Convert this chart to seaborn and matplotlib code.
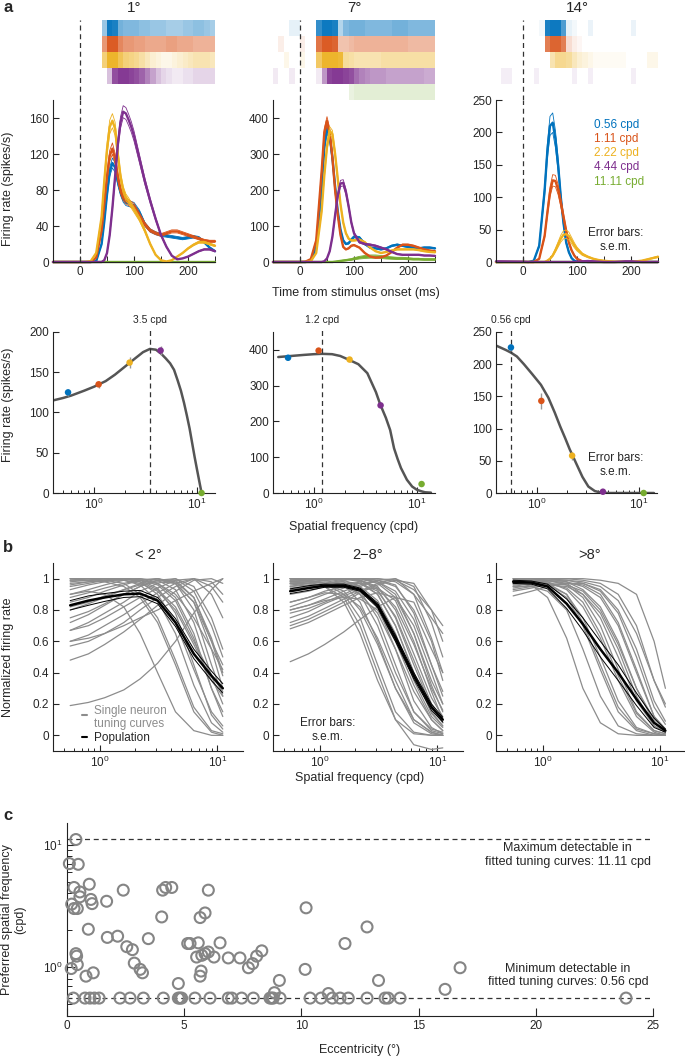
import numpy as np
import pandas as pd
import matplotlib
matplotlib.use("Agg")
import matplotlib.pyplot as plt
import seaborn as sns
from matplotlib.colors import to_rgb
from matplotlib.ticker import NullFormatter

sns.set_style("ticks")
plt.rcParams["font.family"] = ["Liberation Sans", "DejaVu Sans"]
plt.rcParams.update({
    "font.size": 8.5, "xtick.labelsize": 8.5, "ytick.labelsize": 8.5,
    "xtick.direction": "in", "ytick.direction": "in",
    "axes.linewidth": 0.8, "axes.edgecolor": "#222222",
    "xtick.major.size": 4, "ytick.major.size": 4,
    "xtick.minor.size": 2.2, "ytick.minor.size": 2.2,
    "xtick.major.width": 0.8, "ytick.major.width": 0.8,
    "xtick.minor.width": 0.7, "ytick.minor.width": 0.7,
    "xtick.major.pad": 3, "ytick.major.pad": 3,
})

# ---------------- data ----------------
cond_labels = ["0.56 cpd", "1.11 cpd", "2.22 cpd", "4.44 cpd", "11.11 cpd"]
cond_sf = [0.56, 1.11, 2.22, 4.44, 11.11]
cond_colors = ["#0072BD", "#D95319", "#EDB120", "#7E2F8E", "#77AC30"]
ecc_titles = ["1°", "7°", "14°"]

# raster density, 10 ms bins from -50 to 250 ms (blue, orange, yellow, purple, green)
raster_bins = list(range(-50, 260, 10))
raster_1deg = [
    [0, 0, 0, 0, 0, 0, 0, 0, 0, 0.4, 0.95, 0.9, 0.55, 0.5, 0.5, 0.5, 0.45, 0.45, 0.4, 0.4, 0.4, 0.35, 0.35, 0.35, 0.4, 0.4, 0.45, 0.45, 0.4, 0.35],
    [0, 0, 0, 0, 0, 0, 0, 0, 0, 0.6, 0.95, 0.95, 0.7, 0.6, 0.6, 0.55, 0.55, 0.5, 0.5, 0.5, 0.5, 0.55, 0.55, 0.5, 0.5, 0.5, 0.45, 0.45, 0.45, 0.45],
    [0, 0, 0, 0, 0, 0, 0, 0, 0, 0.6, 0.95, 0.95, 0.75, 0.6, 0.55, 0.5, 0.4, 0.3, 0.2, 0.15, 0.1, 0.1, 0.15, 0.2, 0.25, 0.3, 0.35, 0.35, 0.35, 0.3],
    [0, 0, 0, 0, 0, 0, 0, 0, 0, 0, 0.3, 0.85, 0.95, 0.95, 0.9, 0.85, 0.75, 0.6, 0.45, 0.3, 0.2, 0.15, 0.1, 0.1, 0.15, 0.15, 0.2, 0.2, 0.2, 0.2],
    [0] * 30,
]
raster_7deg = [
    [0, 0, 0, 0.1, 0.1, 0, 0, 0, 0.8, 0.95, 0.95, 0.9, 0.3, 0.5, 0.55, 0.55, 0.55, 0.5, 0.5, 0.5, 0.5, 0.5, 0.55, 0.55, 0.55, 0.5, 0.5, 0.5, 0.5, 0.5],
    [0, 0.1, 0, 0, 0, 0.1, 0, 0, 0.8, 0.95, 0.95, 0.9, 0.35, 0.35, 0.4, 0.45, 0.45, 0.45, 0.45, 0.45, 0.45, 0.45, 0.45, 0.45, 0.45, 0.4, 0.4, 0.4, 0.4, 0.4],
    [0, 0, 0.1, 0, 0, 0.1, 0, 0, 0.7, 0.95, 0.95, 0.95, 0.9, 0.45, 0.4, 0.35, 0.35, 0.35, 0.35, 0.35, 0.4, 0.4, 0.4, 0.4, 0.4, 0.4, 0.4, 0.4, 0.4, 0.4],
    [0.1, 0, 0, 0.1, 0, 0, 0, 0, 0.1, 0.5, 0.9, 0.95, 0.95, 0.9, 0.85, 0.7, 0.6, 0.55, 0.5, 0.5, 0.5, 0.45, 0.45, 0.45, 0.45, 0.45, 0.45, 0.45, 0.4, 0.4],
    [0, 0, 0, 0, 0, 0, 0, 0, 0, 0, 0, 0, 0, 0, 0.15, 0.2, 0.2, 0.2, 0.2, 0.2, 0.2, 0.2, 0.2, 0.2, 0.2, 0.2, 0.2, 0.2, 0.2, 0.2],
]
raster_14deg = [
    [0, 0, 0, 0, 0, 0, 0, 0, 0.05, 0.9, 0.95, 0.95, 0.7, 0.1, 0.05, 0, 0, 0.08, 0, 0, 0, 0, 0, 0, 0, 0.08, 0, 0, 0, 0],
    [0, 0, 0, 0, 0, 0, 0, 0, 0, 0.75, 0.9, 0.9, 0.75, 0.2, 0.1, 0.05, 0, 0, 0, 0, 0, 0, 0, 0, 0, 0, 0, 0, 0, 0],
    [0, 0, 0, 0, 0, 0, 0, 0, 0, 0, 0.35, 0.5, 0.5, 0.45, 0.3, 0.2, 0.15, 0.1, 0.05, 0.05, 0.05, 0.05, 0.05, 0.05, 0, 0, 0, 0, 0.1, 0.1],
    [0, 0.08, 0.08, 0, 0, 0, 0, 0.08, 0, 0, 0, 0, 0, 0, 0.08, 0, 0, 0.08, 0, 0, 0, 0, 0, 0, 0, 0.08, 0, 0, 0, 0],
    [0] * 30,
]

# PSTH mean firing rate (spikes/s) sampled at t_ms
t_ms = [-50, 0, 10, 20, 30, 40, 45, 50, 55, 60, 65, 70, 75, 80, 85, 90, 95, 100,
        110, 120, 130, 140, 150, 160, 170, 180, 190, 200, 210, 220, 230, 240, 250]
psth_1deg = [
    [0, 0, 0, 0, 1, 20, 45, 75, 100, 110, 105, 90, 78, 70, 66, 65, 64, 63, 55, 42, 35, 32, 30, 29, 28, 27, 26, 27, 28, 27, 22, 16, 12],
    [0, 0, 0, 0, 5, 35, 65, 95, 118, 126, 115, 95, 80, 72, 68, 66, 64, 62, 52, 42, 35, 32, 30, 32, 34, 34, 32, 30, 28, 26, 24, 23, 23],
    [0, 0, 0, 1, 10, 50, 90, 125, 150, 157, 148, 120, 95, 80, 72, 68, 63, 58, 48, 35, 20, 8, 2, 0.5, 2, 6, 10, 15, 19, 22, 22, 20, 18],
    [0, 0, 0, 0, 0, 0, 2, 10, 30, 60, 95, 130, 155, 167, 165, 158, 150, 140, 115, 90, 68, 48, 30, 17, 7, 3, 4, 6, 9, 12, 14, 14, 12],
    [0] * 33,
]
psth_7deg = [
    [0, 0, 0, 3, 40, 200, 320, 372, 350, 290, 210, 140, 90, 60, 50, 52, 62, 70, 68, 50, 40, 38, 35, 38, 45, 48, 45, 42, 40, 38, 40, 40, 38],
    [0, 0, 1, 8, 60, 250, 360, 392, 360, 290, 200, 130, 75, 42, 35, 38, 45, 47, 40, 25, 15, 12, 13, 18, 28, 40, 48, 48, 45, 40, 35, 32, 30],
    [0, 0, 0, 2, 25, 140, 240, 320, 365, 355, 300, 230, 160, 110, 80, 65, 60, 60, 62, 55, 40, 30, 25, 28, 32, 35, 35, 35, 35, 33, 30, 28, 27],
    [0, 0, 0, 0, 0, 0, 2, 10, 30, 70, 130, 185, 218, 220, 195, 155, 110, 80, 55, 50, 48, 45, 40, 35, 28, 22, 20, 20, 20, 20, 18, 18, 17],
    [0, 0, 0, 0, 0, 0, 0, 0, 0, 0, 1, 2, 3, 4, 5, 6, 7, 9, 12, 14, 15, 15, 14, 12, 11, 10, 10, 9, 8, 8, 7, 7, 7],
]
psth_14deg = [
    [0, 0, 0, 2, 25, 110, 170, 210, 215, 190, 150, 100, 60, 30, 15, 6, 2, 0.5, 0, 0, 0, 0, 0, 0, 0, 0, 0, 0, 0, 0, 0, 0, 0],
    [0, 0, 0, 0, 5, 40, 75, 108, 126, 125, 112, 92, 70, 48, 30, 18, 10, 5, 1, 0, 0, 0, 0, 0, 0, 0, 0, 0, 0, 0, 0, 0, 0],
    [0, 0, 0, 0, 0, 0, 2, 5, 10, 18, 27, 36, 42, 43, 40, 33, 26, 20, 12, 8, 5, 3, 2, 1, 0.5, 0.5, 0.5, 0.5, 1, 2, 4, 6, 8],
    [1, 0.5, 0, 0, 0, 0, 0, 0, 0, 0, 0, 0, 0, 0, 0, 0, 0, 0.5, 1, 1.5, 1, 0.5, 0, 0, 0, 0.5, 1, 1, 0.5, 0, 0, 0, 0],
    [0] * 33,
]
# relative s.e.m. of each PSTH
psth_rel_sem = [[0.05, 0.05, 0.05, 0.04, 0], [0.04, 0.03, 0.03, 0.04, 0.3], [0.07, 0.07, 0.15, 0.3, 0]]
psth_ytop = [180, 450, 250]
psth_yticks = [[0, 40, 80, 120, 160], [0, 100, 200, 300, 400], [0, 50, 100, 150, 200, 250]]

# tuning: measured points and fitted curves
tune_rates = [[125, 135, 162, 177, 0], [378, 398, 373, 245, 25], [226, 143, 58, 2, 0]]
tune_sem = [[4, 4, 7, 6, 1], [6, 6, 6, 6, 4], [5, 12, 6, 2, 1]]
fit1_sf = [0.4, 0.5, 0.6, 0.8, 1.0, 1.3, 1.6, 2.0, 2.5, 3.0, 3.5, 4.0, 4.5, 5.0, 5.5, 6.0, 6.5, 7.0, 7.5, 8.0, 8.5, 9.0, 9.5, 10.0, 10.5, 11.11]
fit1_rate = [115, 118, 121, 127, 132, 139, 147, 157, 167, 175, 179, 178, 173, 167, 161, 153, 140, 127, 112, 96, 80, 62, 45, 30, 16, 0]
fit2_sf = [0.45, 0.6, 0.8, 1.0, 1.2, 1.5, 1.8, 2.2, 2.7, 3.3, 4.0, 4.4, 5.0, 5.5, 6.0, 6.5, 7.0, 8.0, 9.0, 10.0, 11.0, 12.0, 13.7]
fit2_rate = [380, 383, 386, 388, 389, 388, 383, 372, 360, 335, 282, 248, 210, 176, 125, 95, 70, 37, 18, 9, 5, 2, 1]
fit3_sf = [0.4, 0.5, 0.56, 0.64, 0.75, 0.9, 1.1, 1.3, 1.5, 1.7, 1.9, 2.1, 2.4, 2.8, 3.2, 3.7, 4.3, 5.0, 14.0]
fit3_rate = [229, 222, 218, 212, 200, 185, 168, 148, 125, 103, 85, 68, 48, 25, 10, 3, 0.5, 0, 0]
pref_sf = [3.5, 1.2, 0.56]
pref_labels = ["3.5 cpd", "1.2 cpd", "0.56 cpd"]
tune_ytop = [200, 450, 250]
tune_yticks = [[0, 50, 100, 150, 200], [0, 100, 200, 300, 400], [0, 50, 100, 150, 200, 250]]

# panel b: normalized single-neuron tuning curves sampled at b_sf
b_sf = [0.56, 0.8, 1.1, 1.6, 2.2, 3.1, 4.4, 6.3, 8.9, 11.11]
curves_lt2 = [
    [1, 1, 1, 1, 0.99, 0.97, 0.9, 0.75, 0.55, 0.42],
    [1, 1, 1, 0.99, 0.97, 0.92, 0.8, 0.58, 0.35, 0.25],
    [0.99, 0.99, 1, 1, 0.98, 0.93, 0.82, 0.6, 0.38, 0.28],
    [0.98, 0.99, 1, 1, 0.99, 0.96, 0.86, 0.62, 0.3, 0.15],
    [0.97, 0.98, 0.99, 1, 0.98, 0.9, 0.72, 0.42, 0.15, 0.06],
    [0.96, 0.98, 0.99, 0.99, 0.96, 0.86, 0.65, 0.32, 0.08, 0.02],
    [0.95, 0.97, 0.99, 1, 0.99, 0.94, 0.78, 0.45, 0.13, 0.04],
    [0.93, 0.96, 0.98, 1, 1, 0.97, 0.88, 0.65, 0.3, 0.12],
    [0.9, 0.93, 0.96, 0.99, 1, 0.99, 0.93, 0.72, 0.38, 0.2],
    [0.88, 0.91, 0.94, 0.97, 0.99, 1, 0.97, 0.85, 0.6, 0.45],
    [0.85, 0.88, 0.92, 0.96, 0.99, 1, 0.97, 0.8, 0.45, 0.25],
    [0.82, 0.85, 0.89, 0.93, 0.96, 0.98, 0.97, 0.85, 0.55, 0.3],
    [0.8, 0.84, 0.88, 0.93, 0.97, 1, 0.98, 0.88, 0.62, 0.4],
    [0.72, 0.77, 0.83, 0.9, 0.95, 0.99, 1, 0.92, 0.7, 0.5],
    [0.67, 0.72, 0.78, 0.85, 0.92, 0.97, 1, 0.95, 0.75, 0.55],
    [0.67, 0.7, 0.75, 0.82, 0.88, 0.94, 0.99, 1, 0.9, 0.75],
    [0.6, 0.64, 0.7, 0.77, 0.84, 0.91, 0.97, 1, 0.95, 0.85],
    [0.57, 0.6, 0.65, 0.72, 0.8, 0.88, 0.95, 1, 0.98, 0.9],
    [0.48, 0.52, 0.58, 0.66, 0.74, 0.83, 0.92, 0.99, 1, 0.97],
    [0.19, 0.21, 0.24, 0.29, 0.36, 0.46, 0.6, 0.78, 0.93, 1],
    [0.6, 0.62, 0.65, 0.7, 0.75, 0.8, 0.86, 0.92, 0.97, 1],
    [0.9, 0.92, 0.9, 0.82, 0.65, 0.4, 0.15, 0.03, 0, 0],
    [0.99, 1, 0.99, 0.97, 0.9, 0.75, 0.48, 0.18, 0.03, 0.01],
    [1, 0.99, 0.98, 0.95, 0.88, 0.72, 0.45, 0.15, 0.02, 0],
    [0.75, 0.79, 0.84, 0.9, 0.95, 0.99, 0.99, 0.88, 0.6, 0.38],
]
curves_2to8 = [
    [1, 1, 1, 0.98, 0.9, 0.7, 0.4, 0.15, 0.04, 0.02],
    [1, 1, 0.99, 0.96, 0.85, 0.6, 0.3, 0.08, 0.01, 0],
    [0.99, 0.99, 0.97, 0.9, 0.75, 0.45, 0.15, 0.02, 0, 0],
    [0.98, 0.98, 0.95, 0.85, 0.65, 0.35, 0.1, 0.01, 0, 0],
    [1, 1, 1, 1, 0.98, 0.9, 0.7, 0.4, 0.15, 0.06],
    [1, 1, 1, 1, 0.99, 0.95, 0.8, 0.52, 0.24, 0.12],
    [0.97, 0.98, 0.99, 1, 1, 0.97, 0.88, 0.65, 0.35, 0.2],
    [0.95, 0.97, 0.99, 1, 1, 0.99, 0.95, 0.8, 0.55, 0.4],
    [0.93, 0.95, 0.97, 0.99, 1, 1, 0.98, 0.9, 0.75, 0.65],
    [0.98, 0.99, 1, 0.99, 0.95, 0.82, 0.55, 0.22, 0.05, 0.01],
    [0.96, 0.97, 0.98, 0.97, 0.92, 0.75, 0.45, 0.15, 0.03, 0.01],
    [0.92, 0.94, 0.96, 0.97, 0.95, 0.86, 0.65, 0.35, 0.12, 0.05],
    [0.9, 0.92, 0.95, 0.97, 0.97, 0.92, 0.76, 0.48, 0.2, 0.08],
    [0.82, 0.86, 0.9, 0.94, 0.97, 0.98, 0.9, 0.65, 0.32, 0.15],
    [0.8, 0.83, 0.87, 0.92, 0.96, 0.99, 0.96, 0.78, 0.45, 0.25],
    [0.78, 0.81, 0.85, 0.9, 0.95, 0.99, 1, 0.9, 0.62, 0.4],
    [0.72, 0.76, 0.81, 0.87, 0.92, 0.97, 1, 0.95, 0.72, 0.5],
    [0.7, 0.74, 0.79, 0.85, 0.91, 0.96, 0.99, 0.97, 0.8, 0.6],
    [0.47, 0.52, 0.58, 0.66, 0.74, 0.82, 0.88, 0.85, 0.6, 0.35],
    [0.85, 0.88, 0.91, 0.9, 0.82, 0.62, 0.35, 0.1, 0.02, 0],
    [1, 0.99, 0.97, 0.92, 0.8, 0.58, 0.3, 0.1, 0.02, 0],
    [0.95, 0.96, 0.97, 0.98, 0.97, 0.9, 0.7, 0.4, 0.14, 0.06],
    [0.97, 0.98, 0.99, 1, 0.99, 0.93, 0.75, 0.45, 0.18, 0.08],
    [0.99, 1, 1, 1, 0.99, 0.94, 0.82, 0.58, 0.3, 0.16],
    [0.98, 0.99, 1, 1, 1, 0.98, 0.92, 0.74, 0.45, 0.28],
    [0.85, 0.88, 0.92, 0.95, 0.98, 1, 0.99, 0.93, 0.8, 0.7],
    [0.97, 0.97, 0.95, 0.88, 0.7, 0.4, 0.1, -0.06, -0.09, -0.08],
    [0.94, 0.95, 0.96, 0.95, 0.9, 0.78, 0.55, 0.28, 0.1, 0.03],
    [0.8, 0.83, 0.86, 0.88, 0.87, 0.8, 0.6, 0.32, 0.1, 0.03],
    [0.75, 0.79, 0.84, 0.89, 0.93, 0.94, 0.86, 0.6, 0.28, 0.1],
    [0.68, 0.72, 0.77, 0.83, 0.88, 0.91, 0.88, 0.7, 0.4, 0.2],
]
curves_gt8 = [
    [1, 1, 1, 1, 1, 0.99, 0.97, 0.9, 0.6, 0.3],
    [1, 1, 1, 1, 0.99, 0.97, 0.9, 0.7, 0.35, 0.18],
    [0.99, 1, 1, 0.99, 0.97, 0.92, 0.78, 0.5, 0.18, 0.07],
    [0.98, 0.99, 1, 0.98, 0.93, 0.82, 0.6, 0.3, 0.08, 0.03],
    [0.97, 0.99, 0.99, 0.96, 0.88, 0.7, 0.42, 0.15, 0.03, 0.01],
    [0.96, 0.97, 0.96, 0.9, 0.75, 0.5, 0.22, 0.05, 0.01, 0],
    [0.95, 0.95, 0.92, 0.8, 0.55, 0.25, 0.06, 0.01, 0, 0],
    [0.98, 0.96, 0.88, 0.62, 0.3, 0.08, 0.01, 0, 0, 0],
    [0.92, 0.94, 0.96, 0.97, 0.96, 0.9, 0.72, 0.42, 0.12, 0.04],
    [0.89, 0.92, 0.95, 0.97, 0.97, 0.93, 0.8, 0.55, 0.22, 0.09],
    [0.99, 0.99, 0.98, 0.93, 0.82, 0.62, 0.35, 0.12, 0.02, 0],
    [0.98, 0.98, 0.96, 0.88, 0.7, 0.42, 0.15, 0.03, 0, 0],
    [1, 1, 0.99, 0.97, 0.9, 0.75, 0.5, 0.22, 0.06, 0.02],
    [0.97, 0.98, 0.99, 0.99, 0.98, 0.95, 0.86, 0.65, 0.35, 0.2],
    [0.95, 0.97, 0.98, 0.98, 0.95, 0.88, 0.7, 0.4, 0.12, 0.04],
    [0.93, 0.95, 0.96, 0.95, 0.9, 0.78, 0.55, 0.25, 0.06, 0.02],
    [0.99, 0.99, 0.97, 0.9, 0.72, 0.45, 0.18, 0.04, 0.01, 0],
    [0.96, 0.97, 0.97, 0.94, 0.85, 0.65, 0.38, 0.14, 0.03, 0.01],
    [0.94, 0.96, 0.97, 0.96, 0.92, 0.8, 0.58, 0.3, 0.1, 0.04],
]
pop_mean = [
    [0.83, 0.86, 0.88, 0.9, 0.905, 0.86, 0.72, 0.52, 0.38, 0.30],
    [0.92, 0.94, 0.955, 0.955, 0.93, 0.83, 0.62, 0.38, 0.18, 0.10],
    [0.98, 0.975, 0.95, 0.84, 0.71, 0.55, 0.40, 0.23, 0.08, 0.03],
]
pop_sem = [
    [0.03, 0.03, 0.025, 0.02, 0.02, 0.02, 0.025, 0.03, 0.03, 0.03],
    [0.015, 0.015, 0.01, 0.01, 0.01, 0.015, 0.02, 0.02, 0.02, 0.015],
    [0.01, 0.01, 0.015, 0.03, 0.04, 0.05, 0.05, 0.04, 0.03, 0.01],
]
b_titles = ["< 2°", "2\u22128°", ">8°"]

# panel c: eccentricity (deg) and preferred SF (cpd)
ecc_deg = [0.27, 0.77, 0.98, 1.17, 1.37, 2.26, 2.69, 3.26, 4.11, 4.75, 4.82, 4.89, 5.46, 6.10,
           6.88, 7.03, 7.45, 7.95, 8.66, 8.73, 8.80, 9.09, 10.37, 10.84, 11.32, 11.65, 12.0,
           12.8, 13.57, 13.7, 14.21, 23.85,
           0.38, 0.10, 0.48, 0.95, 0.30, 2.40, 0.55, 0.55, 1.02, 1.69, 1.07, 0.20, 0.30, 0.44,
           4.08, 4.21, 4.47, 6.03, 4.04, 5.68, 5.89, 0.91, 1.72, 2.16, 3.47, 2.55, 2.79, 2.87,
           3.12, 3.22, 0.38, 0.41, 0.44, 0.18, 0.81, 1.12, 4.75, 5.15, 5.25, 5.60, 5.53, 5.75,
           5.89, 6.03, 6.27, 6.53, 5.72, 5.68, 6.88, 7.38, 7.74, 7.92, 8.09, 8.31, 9.06, 8.85,
           10.16, 10.2, 11.86, 12.8, 13.29, 16.13, 16.77, 11.15]
pref_cpd = [0.56] * 32 + [
    11.0, 7.0, 6.9, 4.75, 4.47, 4.25, 4.11, 3.75, 3.57, 3.45, 3.30, 3.27, 3.01, 3.01,
    4.25, 4.47, 4.47, 4.25, 2.57, 2.54, 2.77, 2.04, 1.75, 1.79, 1.71, 1.47, 1.39, 1.08,
    0.96, 0.90, 1.29, 1.23, 1.05, 0.975, 0.845, 0.90, 0.736, 1.56, 1.56, 1.58, 1.21, 1.25,
    1.29, 1.33, 1.21, 1.58, 0.93, 0.845, 1.19, 1.19, 0.99, 1.07, 1.23, 1.36, 0.78, 0.62,
    0.96, 3.05, 1.56, 2.13, 0.78, 0.66, 0.99, 0.61]
sf_max, sf_min = 11.11, 0.56

# ---------------- layout ----------------
W, H = 685, 1060
fig = plt.figure(figsize=(W / 100, H / 100), dpi=100)


def box(l, t, r, b):
    return fig.add_axes([l / W, 1 - b / H, (r - l) / W, (b - t) / H])


def ftext(x, y, s, **kw):
    fig.text(x / W, 1 - y / H, s, **kw)


def log_x(ax, lo, hi):
    ax.set_xscale("log")
    ax.set_xlim(lo, hi)
    ax.xaxis.set_minor_formatter(NullFormatter())


dash_kw = dict(color="#333333", lw=0.9, ls=(0, (4, 3)))
cols_lr = [(53, 215), (273, 435), (496, 658)]
draw_order = [4, 0, 1, 2, 3]
rasters = [raster_1deg, raster_7deg, raster_14deg]
psths = [psth_1deg, psth_7deg, psth_14deg]

# ---- panel a, row 1: raster + PSTH ----
for p in range(3):
    l, r = cols_lr[p]
    axr = box(l, 18, r, 100)
    slot = 0.195
    for c in range(5):
        img = np.zeros((1, len(raster_bins) - 1, 4))
        img[..., :3] = to_rgb(cond_colors[c])
        img[0, :, 3] = rasters[p][c]
        y1 = 1 - c * slot - 0.025
        axr.imshow(img, extent=(raster_bins[0], raster_bins[-1], y1 - slot, y1),
                   aspect="auto", interpolation="nearest")
    axr.axvline(0, ymin=0, ymax=0.97, **dash_kw)
    axr.set_xlim(-50, 250)
    axr.set_ylim(0, 1)
    axr.axis("off")
    ftext((l + r) / 2, 8, ecc_titles[p], ha="center", va="center", fontsize=11)

    ax = box(l, 100, r, 262)
    for c in draw_order:
        rate = np.array(psths[p][c], float)
        rel = psth_rel_sem[p][c]
        if rel > 0:
            for k in (1 + rel, 1 - rel):
                sns.lineplot(x=t_ms, y=rate * k, ax=ax, color=cond_colors[c], lw=0.6, sort=False)
        sns.lineplot(x=t_ms, y=rate, ax=ax, color=cond_colors[c], lw=1.7, sort=False)
    for ln in ax.lines:
        ln.set_clip_on(False)
    ax.axvline(0, **dash_kw)
    ax.set_xlim(-50, 250)
    ax.set_ylim(0, psth_ytop[p])
    ax.set_xticks([0, 100, 200])
    ax.set_xticks([-50, 50, 150, 250], minor=True)
    ax.tick_params(axis="x", which="minor", length=4)
    ax.set_yticks(psth_yticks[p])
    ax.set_xlabel("")
    ax.set_ylabel("")
    sns.despine(ax=ax)
    if p == 2:
        ys = [211, 190, 168, 147, 124]
        for c in range(5):
            ax.text(131, ys[c], cond_labels[c], color=cond_colors[c], fontsize=8.5, va="center")
        ax.text(172, 34, "Error bars:\ns.e.m.", ha="center", va="center", fontsize=8.5, linespacing=1.2)

ftext(8, 189, "Firing rate (spikes/s)", rotation=90, ha="center", va="center", fontsize=9)
ftext(356, 293, "Time from stimulus onset (ms)", ha="center", va="center", fontsize=9)

# ---- panel a, row 2: tuning ----
fits = [(fit1_sf, fit1_rate), (fit2_sf, fit2_rate), (fit3_sf, fit3_rate)]
for p in range(3):
    l, r = cols_lr[p]
    ax = box(l, 332, r - (1 if p == 2 else 0), 493)
    log_x(ax, 0.4, 15)
    sns.lineplot(x=fits[p][0], y=fits[p][1], ax=ax, color="#555555", lw=1.8)
    ax.plot([pref_sf[p], pref_sf[p]], [0, tune_ytop[p] * 1.02], clip_on=False, **dash_kw)
    ax.text(pref_sf[p], tune_ytop[p] * 1.045, pref_labels[p], ha="center", va="bottom", fontsize=7.5)
    for c in range(5):
        ax.errorbar(cond_sf[c], tune_rates[p][c], yerr=tune_sem[p][c], fmt="none",
                    ecolor="#999999", elinewidth=1, capsize=0, clip_on=False)
    pts = pd.DataFrame({"sf": cond_sf, "rate": tune_rates[p], "cond": cond_labels})
    sns.scatterplot(data=pts, x="sf", y="rate", hue="cond", palette=cond_colors, s=22,
                    edgecolor="none", legend=False, ax=ax, zorder=5)
    for coll in ax.collections:
        coll.set_clip_on(False)
    ax.set_ylim(0, tune_ytop[p])
    ax.set_yticks(tune_yticks[p])
    ax.set_xlabel("")
    ax.set_ylabel("")
    sns.despine(ax=ax)
    if p == 2:
        ax.text(0.745, 0.175, "Error bars:\ns.e.m.", transform=ax.transAxes, ha="center",
                va="center", fontsize=8.5, linespacing=1.2)

ftext(8, 405, "Firing rate (spikes/s)", rotation=90, ha="center", va="center", fontsize=9)
ftext(354, 527, "Spatial frequency (cpd)", ha="center", va="center", fontsize=9)

# ---- panel b ----
b_cols = [(53, 243), (273, 463), (496, 684)]
b_curves = [curves_lt2, curves_2to8, curves_gt8]
for p in range(3):
    l, r = b_cols[p]
    ax = box(l, 563, r, 751)
    log_x(ax, 0.4, 16.5 if p < 2 else 16.0)
    df = pd.DataFrame([(i, f, v) for i, row in enumerate(b_curves[p]) for f, v in zip(b_sf, row)],
                      columns=["unit", "sf", "rate"])
    sns.lineplot(data=df, x="sf", y="rate", units="unit", estimator=None, color="#8c8c8c",
                 lw=0.9, ax=ax)
    m = np.array(pop_mean[p])
    s = np.array(pop_sem[p])
    for yy, lw in ((m + s, 0.7), (m - s, 0.7), (m, 1.8)):
        sns.lineplot(x=b_sf, y=yy, ax=ax, color="black", lw=lw)
    ax.set_ylim(-0.1, 1.1)
    ax.set_yticks([0, 0.2, 0.4, 0.6, 0.8, 1])
    ax.set_yticklabels(["0", "0.2", "0.4", "0.6", "0.8", "1"])
    ax.set_xlabel("")
    ax.set_ylabel("")
    sns.despine(ax=ax)
    ax.set_title(b_titles[p], fontsize=10.5, pad=3)
    if p == 0:
        ax.plot([0.155, 0.18], [0.19, 0.19], transform=ax.transAxes, color="#8c8c8c", lw=1.5)
        ax.text(0.215, 0.178, "Single neuron\ntuning curves", transform=ax.transAxes, color="#8c8c8c",
                va="center", fontsize=8.5, linespacing=1.05)
        ax.plot([0.155, 0.18], [0.074, 0.074], transform=ax.transAxes, color="black", lw=1.5)
        ax.text(0.215, 0.07, "Population", transform=ax.transAxes, va="center", fontsize=8.5)
    if p == 1:
        ax.text(0.29, 0.11, "Error bars:\ns.e.m.", transform=ax.transAxes, ha="center",
                va="center", fontsize=8.5, linespacing=1.2)

ftext(8, 657, "Normalized firing rate", rotation=90, ha="center", va="center", fontsize=9)
ftext(360, 778, "Spatial frequency (cpd)", ha="center", va="center", fontsize=9)

# ---- panel c ----
ax = box(67, 823, 653, 1016)
ax.set_yscale("log")
ax.axhline(sf_max, **dash_kw)
ax.axhline(sf_min, **dash_kw)
sns.scatterplot(x=ecc_deg, y=pref_cpd, ax=ax, s=62, facecolors="none", edgecolor="#858585",
                linewidth=1.5, zorder=3)
for coll in ax.collections:
    coll.set_clip_on(False)
ax.set_xlim(0, 25)
ax.set_ylim(0.4, 15)
ax.set_xticks([0, 5, 10, 15, 20, 25])
ax.yaxis.set_minor_formatter(NullFormatter())
ax.tick_params(axis="both", which="major", length=6)
ax.tick_params(axis="y", which="minor", length=3.5)
sns.despine(ax=ax)
ax.text(24.9, 8.2, "Maximum detectable in\nfitted tuning curves: 11.11 cpd", ha="right", va="center",
        multialignment="center", fontsize=9, linespacing=1.15)
ax.text(24.8, 0.86, "Minimum detectable in\nfitted tuning curves: 0.56 cpd", ha="right", va="center",
        multialignment="center", fontsize=9, linespacing=1.15)
ftext(14, 920, "Preferred spatial frequency\n(cpd)", rotation=90, ha="center", va="center",
      fontsize=9, multialignment="center", linespacing=1.15)
ftext(360, 1050, "Eccentricity (°)", ha="center", va="center", fontsize=9)

# panel letters
for letter, y in (("a", 8), ("b", 548), ("c", 815)):
    ftext(3, y, letter, fontsize=12, fontweight="bold", va="center")

fig.savefig("out.png", dpi=100)
